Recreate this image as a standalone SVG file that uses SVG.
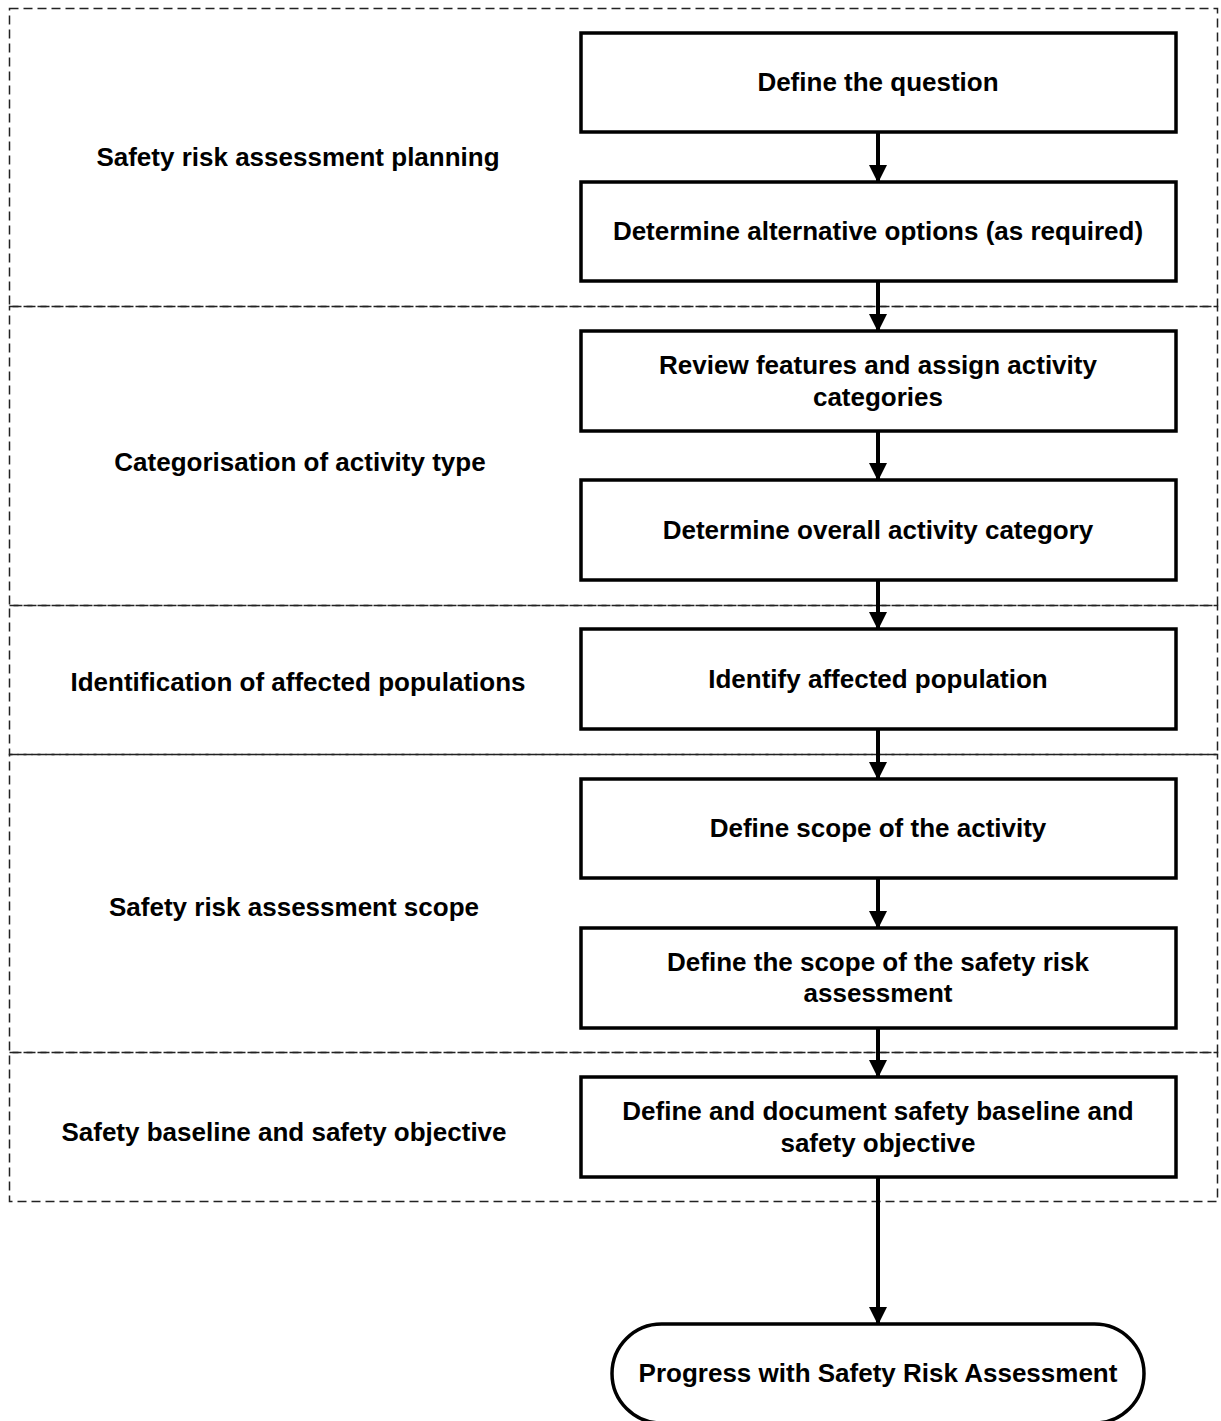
<svg xmlns="http://www.w3.org/2000/svg" width="1221" height="1421" viewBox="0 0 1221 1421">
<style>
.sec{fill:none;stroke:#222;stroke-width:1.5;stroke-dasharray:9 5}
.box{fill:#fff;stroke:#000;stroke-width:3.5}
.t{font-family:"Liberation Sans",Arial,sans-serif;font-weight:bold;font-size:26px;fill:#000;text-anchor:middle}
.c{stroke:#000;stroke-width:4;fill:none}
</style>
<defs>
<marker id="ah" markerWidth="18" markerHeight="18" refX="17" refY="9" orient="auto" markerUnits="userSpaceOnUse">
<path d="M0,0 L18,9 L0,18 Z" fill="#000"/>
</marker>
</defs>
<rect width="1221" height="1421" fill="#fff"/>
<g id="sections">
<rect class="sec" x="9.5" y="8.5" width="1208" height="298"/>
<rect class="sec" x="9.5" y="306.5" width="1208" height="299"/>
<rect class="sec" x="9.5" y="605.5" width="1208" height="149"/>
<rect class="sec" x="9.5" y="754.5" width="1208" height="298"/>
<rect class="sec" x="9.5" y="1052.5" width="1208" height="149"/>
</g>
<g id="section-labels">
<text class="t" x="298" y="166">Safety risk assessment planning</text>
<text class="t" x="300" y="471">Categorisation of activity type</text>
<text class="t" x="298" y="691">Identification of affected populations</text>
<text class="t" x="294" y="916">Safety risk assessment scope</text>
<text class="t" x="284" y="1141">Safety baseline and safety objective</text>
</g>
<g id="connectors">
<line class="c" x1="878" y1="132" x2="878" y2="182" marker-end="url(#ah)"/>
<line class="c" x1="878" y1="281" x2="878" y2="331" marker-end="url(#ah)"/>
<line class="c" x1="878" y1="431" x2="878" y2="480" marker-end="url(#ah)"/>
<line class="c" x1="878" y1="580" x2="878" y2="629" marker-end="url(#ah)"/>
<line class="c" x1="878" y1="729" x2="878" y2="779" marker-end="url(#ah)"/>
<line class="c" x1="878" y1="878" x2="878" y2="928" marker-end="url(#ah)"/>
<line class="c" x1="878" y1="1028" x2="878" y2="1077" marker-end="url(#ah)"/>
<line class="c" x1="878" y1="1177" x2="878" y2="1324" marker-end="url(#ah)"/>
</g>
<g id="n1"><rect class="box" x="581" y="33" width="595" height="99"/><text class="t" x="878" y="91">Define the question</text></g>
<g id="n2"><rect class="box" x="581" y="182" width="595" height="99"/><text class="t" x="878" y="240">Determine alternative options (as required)</text></g>
<g id="n3"><rect class="box" x="581" y="331" width="595" height="100"/><text class="t" x="878" y="374">Review features and assign activity</text><text class="t" x="878" y="406">categories</text></g>
<g id="n4"><rect class="box" x="581" y="480" width="595" height="100"/><text class="t" x="878" y="539">Determine overall activity category</text></g>
<g id="n5"><rect class="box" x="581" y="629" width="595" height="100"/><text class="t" x="878" y="688">Identify affected population</text></g>
<g id="n6"><rect class="box" x="581" y="779" width="595" height="99"/><text class="t" x="878" y="837">Define scope of the activity</text></g>
<g id="n7"><rect class="box" x="581" y="928" width="595" height="100"/><text class="t" x="878" y="971">Define the scope of the safety risk</text><text class="t" x="878" y="1002">assessment</text></g>
<g id="n8"><rect class="box" x="581" y="1077" width="595" height="100"/><text class="t" x="878" y="1120">Define and document safety baseline and</text><text class="t" x="878" y="1152">safety objective</text></g>
<g id="n9"><rect class="box" x="612" y="1324" width="532" height="99" rx="49.5"/><text class="t" x="878" y="1382">Progress with Safety Risk Assessment</text></g>
</svg>
